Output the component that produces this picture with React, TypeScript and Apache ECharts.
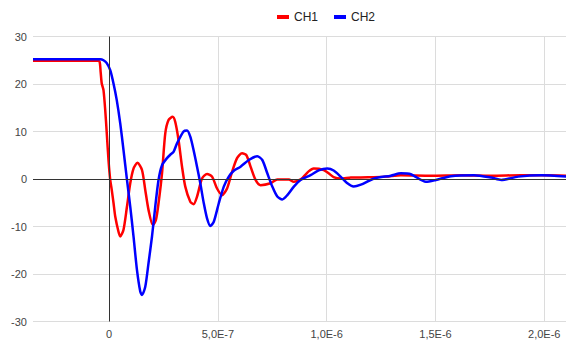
import React, { useEffect, useRef } from "react";
import * as echarts from "echarts";

// time in nanoseconds, values in volts
const ch1Time = [-350, -55, -44, -39, -34, -26, -18, -11, -3, 5, 12, 20, 28, 43, 51, 66, 82, 97, 112, 130, 151, 166, 181, 201, 215, 227, 243, 258, 273, 292, 304, 319, 335, 350, 373, 388, 404, 427, 450, 473, 496, 519, 542, 565, 588, 611, 631, 650, 673, 696, 742, 773, 826, 849, 880, 894, 917, 940, 986, 1009, 1032, 1064, 1111, 1189, 1272, 1341, 1479, 1618, 1756, 1894, 2009, 2106];
const ch1Values = [24.9, 24.9, 24.7, 22.5, 20.1, 18.7, 14.5, 9.7, 4, -0.2, -2.3, -5, -7.9, -11.1, -12.1, -10.7, -5.8, -0.9, 2.2, 3.4, 1.9, -2.3, -6.5, -9.7, -8.6, -5.1, 1.2, 9.6, 12.4, 13.1, 12, 8.2, 2.6, -1.6, -4.8, -5.3, -3.7, 0.1, 1.05, 0.5, -2, -3.4, -2, 1.5, 4.4, 5.4, 5, 2.6, -0.2, -1.3, -0.9, -0.1, -0.1, -0.6, -0.1, 0.5, 1.6, 2.2, 1.9, 1.2, 0.4, 0.1, 0.3, 0.35, 0.5, 0.8, 0.7, 0.8, 0.7, 0.8, 0.8, 0.7];

const ch2Time = [-350, -41, -26, -11, 5, 20, 35, 51, 66, 82, 97, 112, 128, 143, 151, 166, 181, 197, 212, 227, 243, 266, 281, 296, 312, 342, 358, 373, 388, 404, 419, 435, 450, 465, 481, 504, 527, 550, 573, 604, 642, 681, 704, 727, 750, 773, 796, 819, 849, 880, 926, 963, 1003, 1032, 1064, 1092, 1124, 1157, 1218, 1295, 1341, 1387, 1456, 1502, 1571, 1677, 1756, 1802, 1880, 1986, 2106];
const ch2Values = [25.2, 25.2, 25, 24.4, 22.9, 20.1, 16.6, 11.7, 6.1, -0.2, -5.8, -12.1, -19.2, -23.7, -24.4, -22.7, -17.7, -12.1, -5.8, -0.2, 2.9, 4.4, 5.1, 5.7, 7.5, 10, 10.2, 8.9, 6.1, 2.6, -0.9, -5.1, -8.3, -9.9, -9, -5.1, -1.6, 0.5, 1.75, 2.6, 4, 4.8, 4, 1.2, -1.6, -3.7, -4.3, -3.4, -1.6, -0.2, 0.8, 1.8, 2.2, 1.8, 0.5, -0.8, -1.6, -1.2, 0.1, 0.7, 1.2, 1, -0.6, -0.2, 0.6, 0.8, 0.3, -0.2, 0.5, 0.8, 0.5];

const xTicks = [0, 5e-7, 1e-6, 1.5e-6, 2e-6];
const xMin = -3.5e-7;
const xMax = 2.1e-6;
const yMin = -30;
const yMax = 30;
const yStep = 10;

const toPairs = (t: number[], v: number[]) => t.map((ns, i) => [ns * 1e-9, v[i]]);

const fmt = (v: number) => {
  if (Math.abs(v) < 1e-12) return "0";
  return v.toExponential(1).replace(".", ",").replace("e", "E");
};

export default function App() {
  const ref = useRef<HTMLDivElement>(null);
  useEffect(() => {
    if (!ref.current) return;
    const chart = echarts.init(ref.current, undefined, { renderer: "svg" });
    const font = "'Liberation Sans', Arial, sans-serif";
    chart.setOption({
      animation: false,
      textStyle: { fontFamily: font },
      legend: {
        top: 6,
        left: 272,
        icon: "rect",
        itemWidth: 12,
        itemHeight: 4,
        itemGap: 16,
        textStyle: { fontSize: 12, color: "#222", fontFamily: font },
        data: ["CH1", "CH2"],
      },
      grid: { left: 33, right: 0, top: 36.5, bottom: 25.5, containLabel: false },
      xAxis: {
        type: "value",
        min: xMin,
        max: xMax,
        axisLine: { show: false },
        axisTick: { show: false, customValues: xTicks },
        axisLabel: {
          customValues: xTicks,
          formatter: fmt,
          color: "#444",
          fontSize: 11,
          margin: 7,
          fontFamily: font,
        },
        splitLine: { show: true, lineStyle: { color: "#dcdcdc", width: 1 } },
      },
      yAxis: {
        type: "value",
        min: yMin,
        max: yMax,
        interval: yStep,
        axisLine: { show: false },
        axisTick: { show: false },
        axisLabel: { color: "#444", fontSize: 11, margin: 6, fontFamily: font },
        splitLine: { show: true, lineStyle: { color: "#dcdcdc", width: 1 } },
      },
      series: [
        {
          name: "CH1",
          type: "line",
          data: toPairs(ch1Time, ch1Values),
          smooth: 0.25,
          symbol: "none",
          color: "#ff0000",
          lineStyle: { width: 2.5, color: "#ff0000" },
          z: 3,
          markLine: {
            silent: true,
            symbol: "none",
            label: { show: false },
            lineStyle: { color: "#333", type: "solid", width: 1 },
            data: [{ xAxis: 0 }, { yAxis: 0 }],
          },
        },
        {
          name: "CH2",
          type: "line",
          data: toPairs(ch2Time, ch2Values),
          smooth: 0.25,
          symbol: "none",
          color: "#0000ff",
          lineStyle: { width: 2.5, color: "#0000ff" },
          z: 4,
        },
      ],
    });
    return () => chart.dispose();
  }, []);
  return (
    <div
      ref={ref}
      style={{ position: "absolute", left: 0, top: 0, width: 566, height: 347 }}
    />
  );
}
